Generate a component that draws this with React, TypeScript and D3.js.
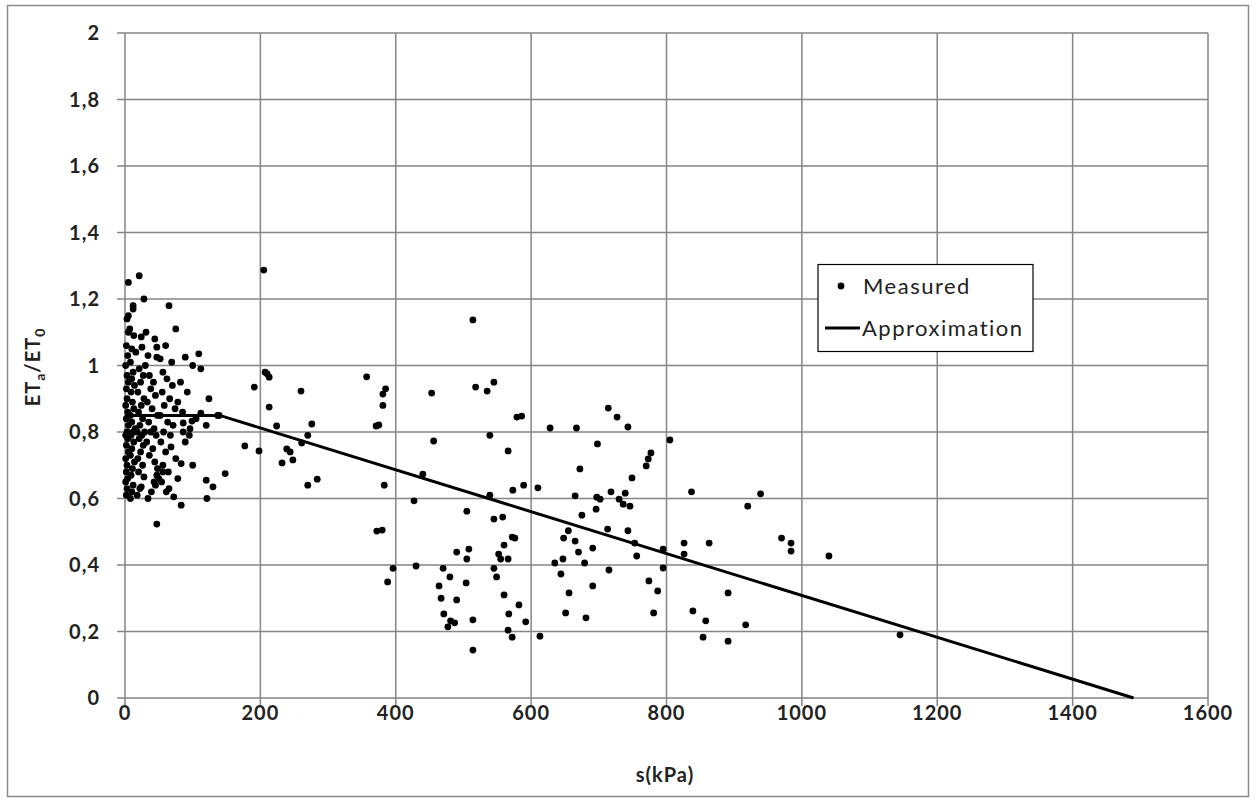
import React from "react";
import * as d3 from "d3";

// Tick values
const xTicks = [0, 200, 400, 600, 800, 1000, 1200, 1400, 1600];
const yTicks = [0, 0.2, 0.4, 0.6, 0.8, 1, 1.2, 1.4, 1.6, 1.8, 2];

// Measured points: near-zero suction cluster
const clusterX = [2,3,1,4,2,3,1,5,2,4,1,3,5,2,4,1,3,2,5,3,1,4,2,5,3,5,5,
  8,10,12,9,11,14,8,10,13,9,12,15,10,8,13,11,9,14,10,12,8,10,16,12,12,7,13,
  18,22,24,28,20,26,19,23,27,21,25,18,29,22,26,20,24,28,19,23,27,21,25,24,21,28,30,
  31,34,44,47,47,36,42,38,45,33,40,48,35,43,38,46,32,41,36,44,48,43,50,47,39,34,47,45,
  52,60,65,69,56,62,70,55,66,58,74,52,63,71,57,67,53,68,60,75,56,64,56,72,65,78,54,61,75,78,
  83,83,89,89,100,100,109,112,112,120,120,121,124,130,137,139,148,86,99,86,96,85,95,105,92,82];
const clusterY = [0.61,0.63,0.65,0.66,0.68,0.70,0.72,0.74,0.76,0.78,0.79,0.80,0.82,0.84,0.86,0.88,0.90,0.93,0.95,0.97,1.0,1.03,1.06,1.10,1.14,1.15,1.25,
  0.60,0.62,0.64,0.67,0.69,0.71,0.73,0.75,0.77,0.79,0.80,0.81,0.83,0.85,0.87,0.89,0.92,0.94,0.96,0.98,1.01,1.05,1.04,1.18,1.17,1.11,1.09,
  0.61,0.63,0.635,0.665,0.68,0.70,0.72,0.74,0.76,0.78,0.79,0.80,0.80,0.82,0.84,0.86,0.88,0.90,0.92,0.95,0.97,0.99,1.055,1.086,1.27,1.20,1.0,
  1.10,1.03,1.08,1.055,1.025,0.97,0.95,0.93,0.91,0.89,0.87,0.85,0.83,0.81,0.80,0.79,0.77,0.75,0.73,0.71,0.69,0.65,0.66,0.67,0.62,0.60,0.523,0.64,
  1.02,1.06,1.18,1.01,0.98,0.96,0.94,0.92,0.90,0.88,0.87,0.85,0.83,0.82,0.80,0.79,0.77,0.755,0.74,0.72,0.70,0.68,0.68,0.605,0.63,0.66,0.65,0.62,1.11,0.89,
  0.58,0.705,0.77,1.025,1.0,0.70,1.035,0.99,0.857,0.82,0.655,0.60,0.90,0.635,0.85,0.85,0.675,0.827,0.833,0.80,0.81,0.86,0.79,0.84,0.92,0.95];

// Measured points: higher suction
const spreadX = [205,207,210,213,191,260,213,224,276,270,177,198,239,244,248,261,232,284,270,
  514,357,385,381,381,371,375,453,518,535,545,579,456,539,566,440,383,539,573,427,505,545,558,372,380,572,576,560,490,508,505,552,555,566,396,388,430,470,480,464,504,545,549,467,490,560,582,471,481,487,477,514,567,566,572,514,
  586,628,667,714,727,743,805,698,777,773,770,672,749,589,610,665,697,702,718,739,730,736,746,696,675,713,743,655,648,665,670,691,753,756,795,635,647,679,795,715,644,774,691,787,656,651,681,781,592,613,
  837,939,920,970,984,984,1040,826,863,826,891,839,858,917,854,891,1145];
const spreadY = [1.287,0.98,0.975,0.965,0.935,0.923,0.875,0.818,0.824,0.79,0.758,0.743,0.749,0.74,0.716,0.767,0.707,0.658,0.64,
  1.137,0.966,0.93,0.914,0.88,0.818,0.821,0.917,0.935,0.923,0.95,0.845,0.773,0.79,0.743,0.673,0.64,0.61,0.625,0.593,0.562,0.538,0.544,0.502,0.505,0.484,0.481,0.46,0.439,0.448,0.418,0.433,0.418,0.418,0.39,0.349,0.397,0.39,0.364,0.337,0.346,0.39,0.364,0.30,0.295,0.31,0.28,0.253,0.232,0.226,0.214,0.235,0.253,0.204,0.183,0.144,
  0.848,0.812,0.812,0.872,0.845,0.815,0.776,0.764,0.737,0.719,0.698,0.689,0.662,0.64,0.632,0.608,0.604,0.598,0.62,0.616,0.598,0.583,0.577,0.568,0.55,0.508,0.503,0.503,0.481,0.472,0.439,0.451,0.466,0.427,0.448,0.406,0.418,0.406,0.391,0.385,0.373,0.352,0.337,0.322,0.316,0.256,0.241,0.256,0.229,0.186,
  0.62,0.614,0.577,0.481,0.466,0.442,0.427,0.466,0.466,0.433,0.316,0.262,0.232,0.22,0.183,0.171,0.19];

// Approximation line
const approxX = [0, 140, 1490];
const approxY = [0.85, 0.85, 0];

const FONT = "Lato, 'Open Sans', sans-serif";

export default function App() {
  const left = 125, right = 1208, top = 33, bottom = 698;
  const x = d3.scaleLinear().domain([0, 1600]).range([left, right]);
  const y = d3.scaleLinear().domain([0, 2]).range([bottom, top]);
  const fmt = (v: number) => (Math.round(v * 10) / 10).toString().replace(".", ",");

  const pts = [
    ...clusterX.map((v, i) => [v, clusterY[i]]),
    ...spreadX.map((v, i) => [v, spreadY[i]]),
  ];
  const lineGen = d3.line<number>().x((d) => x(d)).y((_, i) => y(approxY[i]));
  const grid = "#858585";
  const ink = "#222";

  return (
    <svg width={1258} height={800} style={{ position: "absolute", left: 0, top: 0, background: "#fff" }}>
      <rect x={7.5} y={5.5} width={1241} height={791} fill="#fff" stroke="#8a8a8a" strokeWidth={1.5} />
      {yTicks.map((t) => (
        <g key={"y" + t}>
          <line x1={left - 8} x2={right} y1={y(t)} y2={y(t)} stroke={grid} strokeWidth={1.5} />
          <text x={100} y={y(t) + 7} textAnchor="end" fontFamily={FONT} fontWeight={700} fontSize={20} letterSpacing={1} fill={ink}>
            {fmt(t)}
          </text>
        </g>
      ))}
      {xTicks.map((t) => (
        <g key={"x" + t}>
          <line x1={x(t)} x2={x(t)} y1={top} y2={bottom + 8} stroke={grid} strokeWidth={1.5} />
          <text x={x(t)} y={bottom + 22} textAnchor="middle" fontFamily={FONT} fontWeight={700} fontSize={20} letterSpacing={1} fill={ink}>
            {t}
          </text>
        </g>
      ))}
      {pts.map((p, i) => (
        <circle key={i} cx={x(p[0])} cy={y(p[1])} r={3.4} fill="#000" />
      ))}
      <path d={lineGen(approxX) || ""} fill="none" stroke="#000" strokeWidth={3} />
      <text x={665} y={782} textAnchor="middle" fontFamily={FONT} fontWeight={700} fontSize={20} letterSpacing={1} fill={ink}>
        s(kPa)
      </text>
      <text transform="translate(40,367) rotate(-90)" textAnchor="middle" fontFamily={FONT} fontWeight={700} fontSize={20} letterSpacing={1} fill={ink}>
        ET<tspan fontSize={14} dy={5}>a</tspan>
        <tspan dy={-5}>/ET</tspan>
        <tspan fontSize={14} dy={5}>0</tspan>
      </text>
      <g>
        <rect x={818} y={264.5} width={215} height={87} fill="#fff" stroke="#000" strokeWidth={1.2} />
        <circle cx={841} cy={286} r={3.4} fill="#000" />
        <text x={863} y={294} fontFamily={FONT} fontSize={22} letterSpacing={1.5} fill={ink}>Measured</text>
        <line x1={825} x2={860} y1={328} y2={328} stroke="#000" strokeWidth={3} />
        <text x={862} y={336} fontFamily={FONT} fontSize={22} letterSpacing={1.5} fill={ink}>Approximation</text>
      </g>
    </svg>
  );
}
